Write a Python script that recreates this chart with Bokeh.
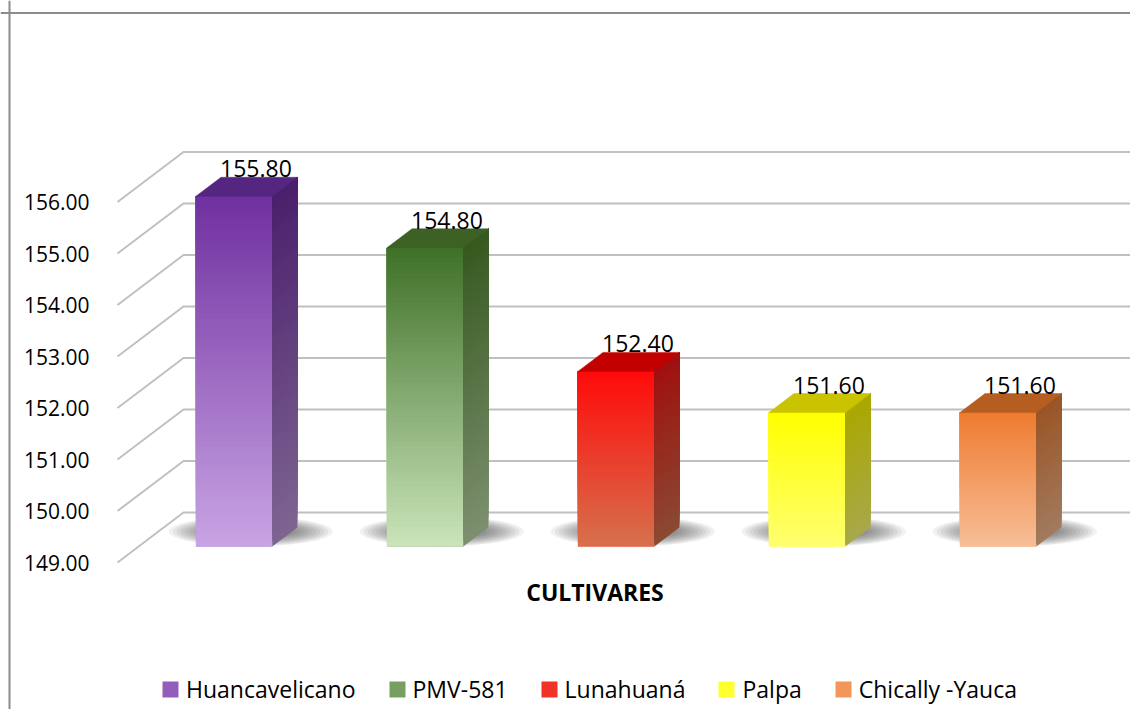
import numpy as np
from bokeh.plotting import figure
from bokeh.models import Range1d, Legend, LegendItem, Span
from bokeh.core.properties import value
from bokeh.embed import file_html
from bokeh.resources import INLINE

# ---------------- data ----------------
cultivars = ["Huancavelicano", "PMV-581", "Lunahuaná", "Palpa", "Chically -Yauca"]
heights = [155.80, 154.80, 152.40, 151.60, 151.60]
tick_values = [149, 150, 151, 152, 153, 154, 155, 156]
tick_labels = ["149.00", "150.00", "151.00", "152.00", "153.00", "154.00", "155.00", "156.00"]
axis_title = "CULTIVARES"

# colours (top -> bottom of each face)
front_top = ["#7030a0", "#3f7028", "#ff0a0a", "#ffff00", "#ee7b30"]
front_bot = ["#c8a4e3", "#cae5ba", "#d6714d", "#ffff70", "#f7be97"]
side_top = ["#4a1f6c", "#36591f", "#a01010", "#a9a800", "#9a5526"]
side_bot = ["#7f6592", "#7d9070", "#8a4a32", "#a8a84c", "#a27b5f"]
top_face = ["#55267f", "#3d6124", "#c20000", "#c9c300", "#b65d21"]

# ---------------- geometry ----------------
W, H = 1130, 709
PX_CAT, PX_VAL = 191.0, 51.5
Y_MIN = tick_values[0]
DX = 66.0 / PX_CAT          # depth shift (category units)
DY = 50.0 / PX_VAL          # depth shift (value units)
F0, F1 = 0.32, 0.70         # bar front / back depth
BW = 0.40                   # bar width
N = 60

x_start = -117 / PX_CAT
y_end = Y_MIN + 562 / PX_VAL

p = figure(width=W, height=H, output_backend="svg", toolbar_location=None,
           x_range=Range1d(x_start, x_start + W / PX_CAT),
           y_range=Range1d(y_end - H / PX_VAL, y_end),
           min_border=0, background_fill_color="white", border_fill_color="white")
p.axis.visible = False
p.grid.visible = False
p.outline_line_color = None

# chart border (top and left visible)
p.add_layout(Span(location=y_end - 12.5 / PX_VAL, dimension="width", line_color="#8c8c8c", line_width=2))
p.add_layout(Span(location=x_start + 9 / PX_CAT, dimension="height", line_color="#8c8c8c", line_width=2))

ncat = len(cultivars)
# gridlines: left wall diagonals + back wall horizontals
gx = [[0, DX, ncat + DX] for t in tick_values]
gy = [[t, t + DY, t + DY] for t in tick_values]
p.multi_line(gx, gy, line_color="#c0c0c0", line_width=2)

# tick labels
p.text(x=[0] * len(tick_values), y=tick_values, text=tick_labels,
       text_align="right", text_baseline="middle", x_offset=-28,
       text_font=value("Open Sans"), text_font_size="21px", text_color="#000000")


def hex2rgb(h):
    h = h.lstrip("#")
    return np.array([int(h[i:i + 2], 16) for i in (0, 2, 4)], dtype=float)


def lerp(c1, c2, t):
    a, b = hex2rgb(c1), hex2rgb(c2)
    c = a + (b - a) * t
    return "#%02x%02x%02x" % tuple(int(round(v)) for v in c)


# soft floor shadows
for i, v in enumerate(heights):
    c = i + 0.5
    for k in range(10):
        s = 1 - k / 10
        p.ellipse(x=[c - 0.01 + 0.6 * DX], y=[Y_MIN + 0.62 * DY],
                  width=[(BW + 0.46) * (0.5 + 0.5 * s)], height=[0.58 * (0.4 + 0.6 * s)],
                  fill_color="#303030", fill_alpha=0.065, line_color=None)

legend_items = []
for i, v in enumerate(heights):
    c = i + 0.5
    xl, xr = c - BW / 2, c + BW / 2
    ks = np.arange(N)
    lo = Y_MIN + (v - Y_MIN) * ks / N
    tfrac = (ks + 0.5) / N
    fcols = [lerp(front_bot[i], front_top[i], t) for t in tfrac]
    scols = [lerp(side_bot[i], side_top[i], t) for t in tfrac]
    # front face base (legend swatch colour), then overlapping gradient strips
    base = p.quad(left=[xl + F0 * DX], right=[xr + F0 * DX], bottom=[Y_MIN + F0 * DY], top=[v + F0 * DY],
                  fill_color=lerp(front_bot[i], front_top[i], 0.6), line_color=None)
    legend_items.append(LegendItem(label=cultivars[i], renderers=[base]))
    p.quad(left=[xl + F0 * DX] * N, right=[xr + F0 * DX] * N,
           bottom=list(lo + F0 * DY), top=[v + F0 * DY] * N,
           fill_color=fcols, line_color=None)
    # side face
    sxs = [[xr + F0 * DX, xr + F1 * DX, xr + F1 * DX, xr + F0 * DX] for _ in ks]
    sys_ = [[a + F0 * DY, a + F1 * DY, v + F1 * DY, v + F0 * DY] for a in lo]
    p.patches(sxs, sys_, fill_color=scols, line_color=None)
    # top face
    p.patch([xl + F0 * DX, xr + F0 * DX, xr + F1 * DX, xl + F1 * DX],
            [v + F0 * DY, v + F0 * DY, v + F1 * DY, v + F1 * DY],
            fill_color=top_face[i], line_color=top_face[i], line_width=0.5)

# data labels
p.text(x=[i + 0.5 + 0.65 * DX for i in range(ncat)], y=[v + F1 * DY for v in heights],
       text=["%.2f" % v for v in heights], text_align="center", text_baseline="bottom",
       text_font=value("Open Sans"), text_font_size="23px", text_color="#000000")

# axis title
p.text(x=[ncat / 2], y=[Y_MIN], text=[axis_title], text_align="center", text_baseline="middle",
       y_offset=29, text_font=value("Open Sans"), text_font_size="23px", text_font_style="bold",
       text_color="#000000")

legend = Legend(items=legend_items, orientation="horizontal", location=(160, 4),
                border_line_color=None, background_fill_alpha=0, padding=0, margin=0,
                spacing=31, label_standoff=6, glyph_width=20, glyph_height=20,
                label_text_font="Open Sans", label_text_font_size="23px", label_text_color="#000000")
p.add_layout(legend, "center")

open("out.html", "w").write(file_html(p, INLINE))
